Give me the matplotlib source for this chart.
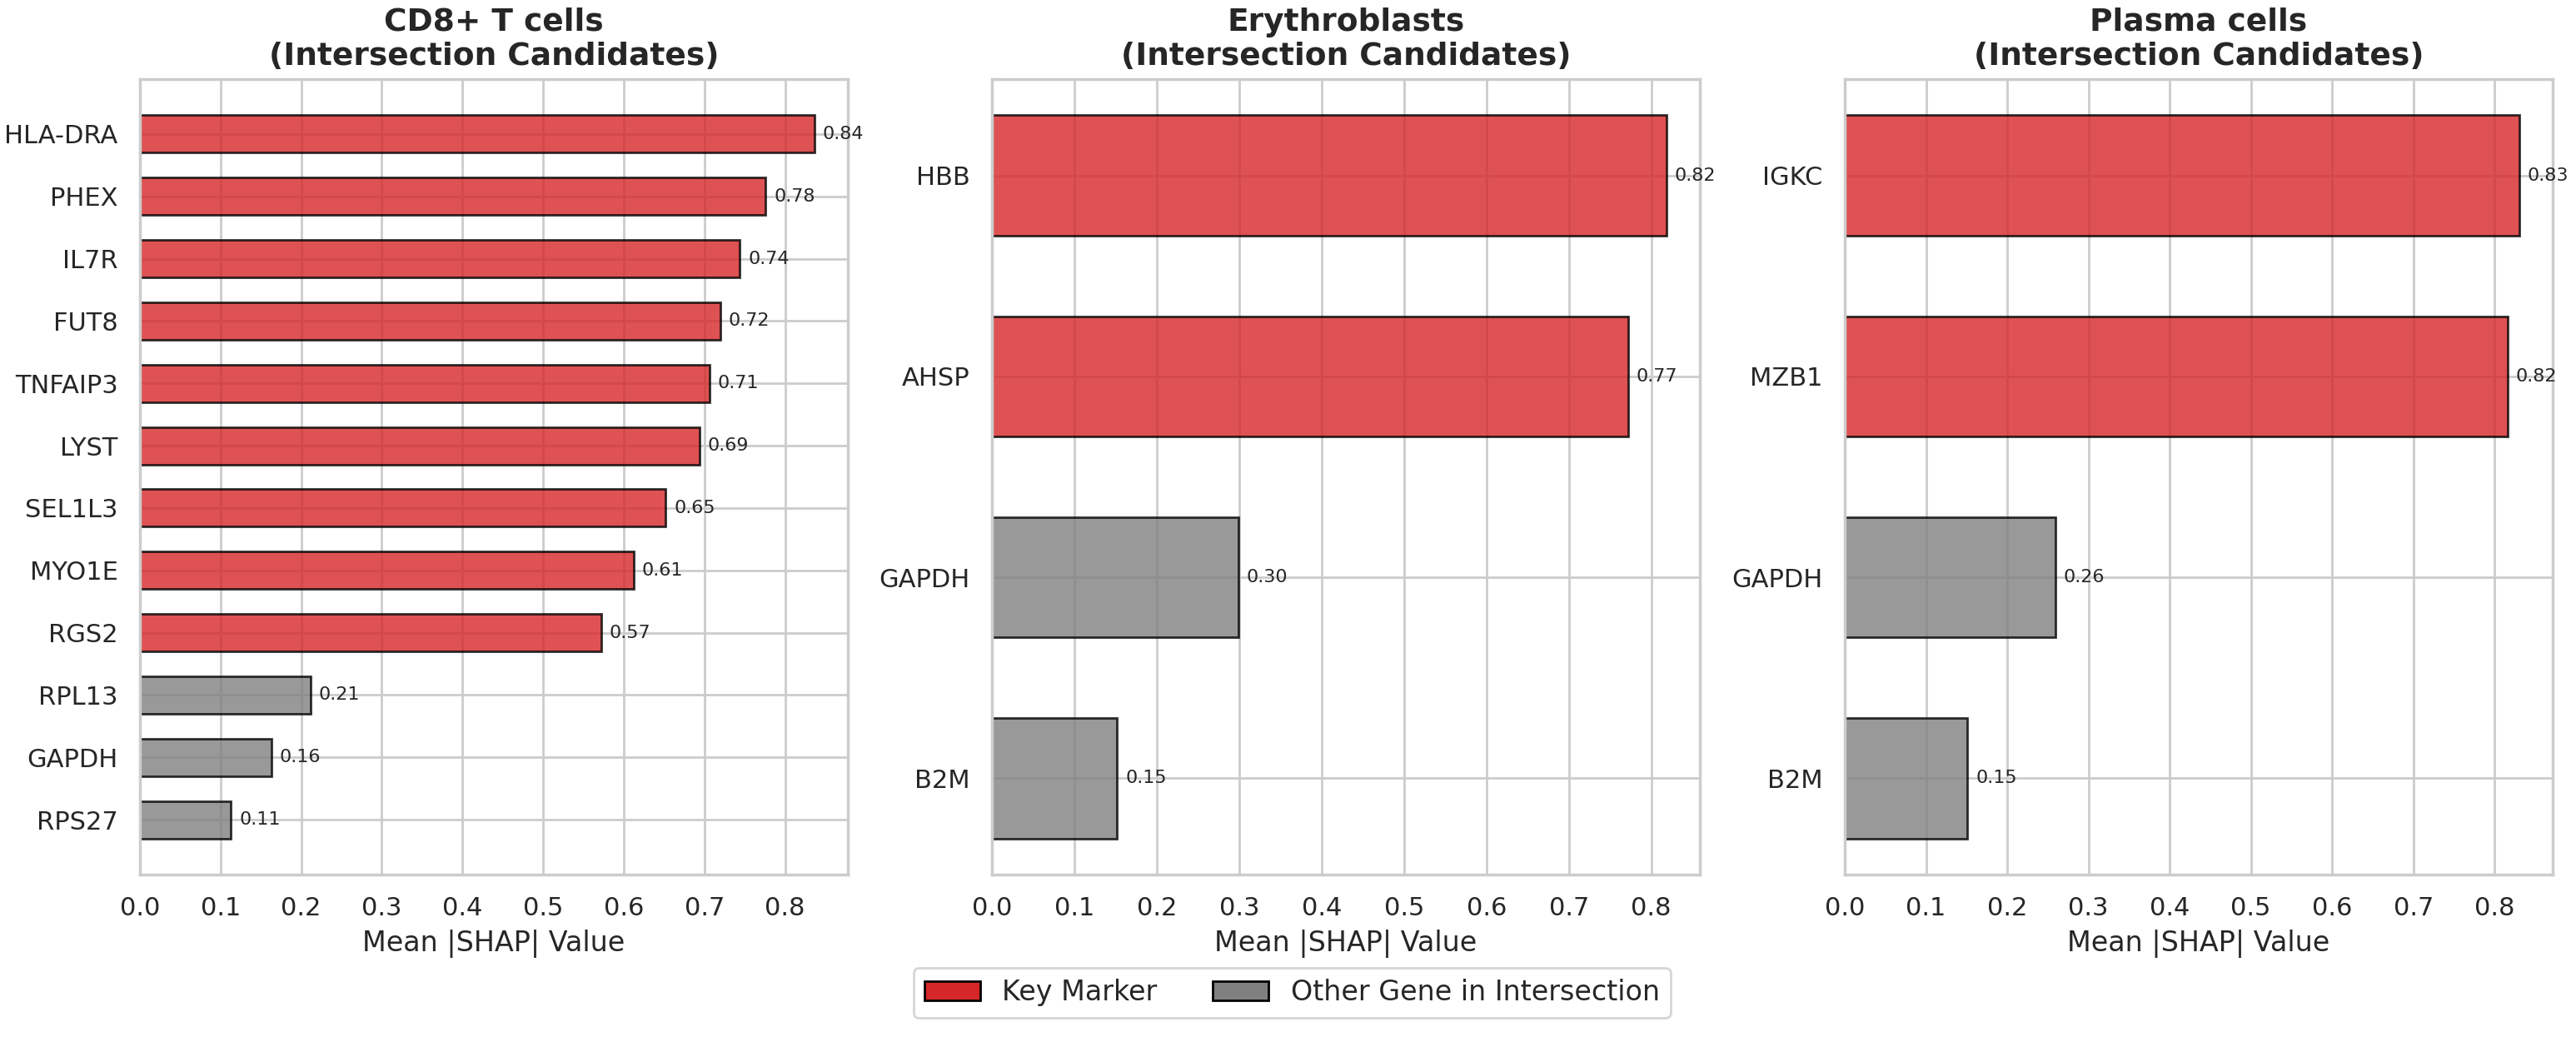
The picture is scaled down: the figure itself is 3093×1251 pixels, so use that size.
import matplotlib
matplotlib.use("Agg")
import matplotlib.pyplot as plt
import seaborn as sns
from matplotlib.patches import Patch

sns.set_theme(style="whitegrid", context="notebook")
plt.rcParams['font.family'] = ['DejaVu Sans']

# ---- data ----
titles = ["CD8+ T cells\n(Intersection Candidates)",
          "Erythroblasts\n(Intersection Candidates)",
          "Plasma cells\n(Intersection Candidates)"]

cd8_genes = ["HLA-DRA", "PHEX", "IL7R", "FUT8", "TNFAIP3", "LYST", "SEL1L3",
             "MYO1E", "RGS2", "RPL13", "GAPDH", "RPS27"]
cd8_values = [0.836, 0.776, 0.744, 0.720, 0.706, 0.694, 0.652, 0.612, 0.572,
              0.212, 0.163, 0.113]
cd8_key = [True] * 9 + [False] * 3

ery_genes = ["HBB", "AHSP", "GAPDH", "B2M"]
ery_values = [0.818, 0.772, 0.299, 0.152]
ery_key = [True, True, False, False]

pla_genes = ["IGKC", "MZB1", "GAPDH", "B2M"]
pla_values = [0.830, 0.816, 0.259, 0.151]
pla_key = [True, True, False, False]

legend_labels = ["Key Marker", "Other Gene in Intersection"]
xlabel = "Mean |SHAP| Value"

KEY_COLOR = "#d62728"
OTHER_COLOR = "gray"

panels = [(cd8_genes, cd8_values, cd8_key),
          (ery_genes, ery_values, ery_key),
          (pla_genes, pla_values, pla_key)]

W, H, DPI = 3093, 1251, 200
fig = plt.figure(figsize=(W / DPI, H / DPI), dpi=DPI)

lefts = [168, 1191, 2215]
ax_w = 850
top_px, bot_px = 95, 1050

for (genes, vals, keys), title, lp in zip(panels, titles, lefts):
    ax = fig.add_axes([lp / W, 1 - bot_px / H, ax_w / W, (bot_px - top_px) / H])
    ypos = list(range(len(genes)))[::-1]
    colors = [KEY_COLOR if k else OTHER_COLOR for k in keys]
    ax.barh(ypos, vals, height=0.6, color=colors, alpha=0.8,
            edgecolor="black", linewidth=1.0)
    ax.set_yticks(ypos)
    ax.set_yticklabels(genes)
    for y, v in zip(ypos, vals):
        ax.text(v + 0.01, y, f"{v:.2f}", va="center", ha="left",
                fontsize=8, color="#262626")
    ax.set_title(title, fontsize=13.5, fontweight="bold")
    ax.set_xlabel(xlabel, fontsize=12)
    ax.tick_params(axis="both", labelsize=11)

handles = [Patch(facecolor=KEY_COLOR, edgecolor="black", label=legend_labels[0]),
           Patch(facecolor=OTHER_COLOR, edgecolor="black", label=legend_labels[1])]
fig.legend(handles=handles, loc="lower center", bbox_to_anchor=(0.5016, 0.01),
           ncol=2, fontsize=12, frameon=True)

fig.savefig("out.png", dpi=DPI)
